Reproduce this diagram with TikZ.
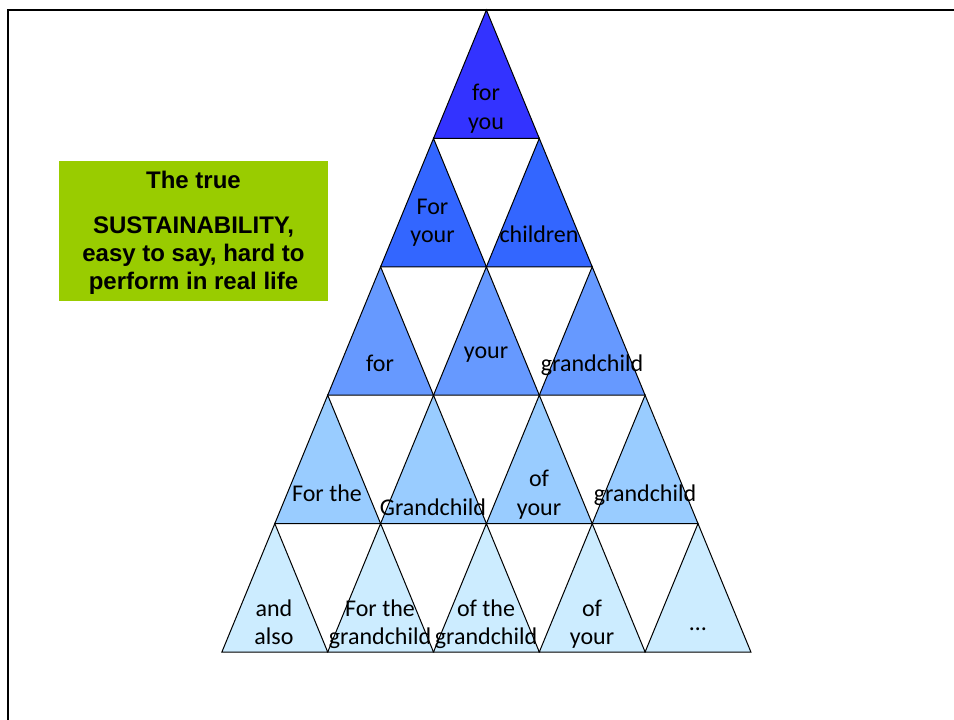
\documentclass[tikz,border=0pt]{standalone}
\usepackage{fontspec}
\setmainfont{Carlito}
\setsansfont{Liberation Sans}
\definecolor{rowa}{HTML}{3333FF}
\definecolor{rowb}{HTML}{3366FF}
\definecolor{rowc}{HTML}{6699FF}
\definecolor{rowd}{HTML}{99CCFF}
\definecolor{rowe}{HTML}{CCECFF}
\definecolor{boxgreen}{HTML}{99CC00}
\tikzset{
  tri/.style={draw=black, line width=0.75pt, line join=miter},
  tritext/.style={font=\fontsize{18}{21.4}\selectfont, align=center, inner sep=0pt, anchor=base, text=black},
  boxtext/.style={font=\sffamily\bfseries\fontsize{18}{21.2}\selectfont, align=center, inner sep=0pt, anchor=base, text=black},
  frame/.style={line width=1.9pt, draw=black}
}
\begin{document}
\begin{tikzpicture}[x=0.75pt,y=-0.75pt]
\useasboundingbox (0,0) rectangle (954,720);
% triangles
\foreach \k/\col in {1/rowa,2/rowb,3/rowc,4/rowd,5/rowe}{
  \foreach \j in {1,...,\k}{
    \filldraw[tri, fill=\col]
      ({486.4-\k*52.9+(\j-1)*105.8}, {10+\k*128.4})
      -- ({486.4-\k*52.9+(\j-1)*105.8+52.9}, {10+(\k-1)*128.4})
      -- ({486.4-\k*52.9+\j*105.8}, {10+\k*128.4}) -- cycle;
  }
}
% frame
\draw[frame] (8,720) -- (8,10) -- (954,10);
% texts (multi-line nodes anchored at the baseline of their last line)
\node[tritext] (t11) at (486,129.3) {for\\you};
\node[tritext] (t21) at (432.5,243) {For\\your};
\node[tritext] (t22) at (539,243) {children};
\node[tritext] (t31) at (380,372) {for};
\node[tritext] (t32) at (486,359) {your};
\node[tritext] (t33) at (592,372) {grandchild};
\node[tritext] (t41) at (327,501) {For the};
\node[tritext] (t42) at (433,515) {Grandchild};
\node[tritext] (t43) at (539,515.3) {of\\your};
\node[tritext] (t44) at (645,501) {grandchild};
\node[tritext] (t51) at (274,644.7) {and\\also};
\node[tritext] (t52) at (380,644.7) {For the\\grandchild};
\node[tritext] (t53) at (486,644.7) {of the\\grandchild};
\node[tritext] (t54) at (592,644.7) {of\\your};
\node[tritext] (t55) at (698,630) {…};
% green box
\node[fill=boxgreen, inner sep=0pt, minimum width=201.75pt, minimum height=105pt] (box) at (193.5,231) {};
\node[boxtext] (boxtxt) at (193.5,290) {The true\\[12.6pt]SUSTAINABILITY,\\easy to say, hard to\\perform in real life};
\end{tikzpicture}
\end{document}
